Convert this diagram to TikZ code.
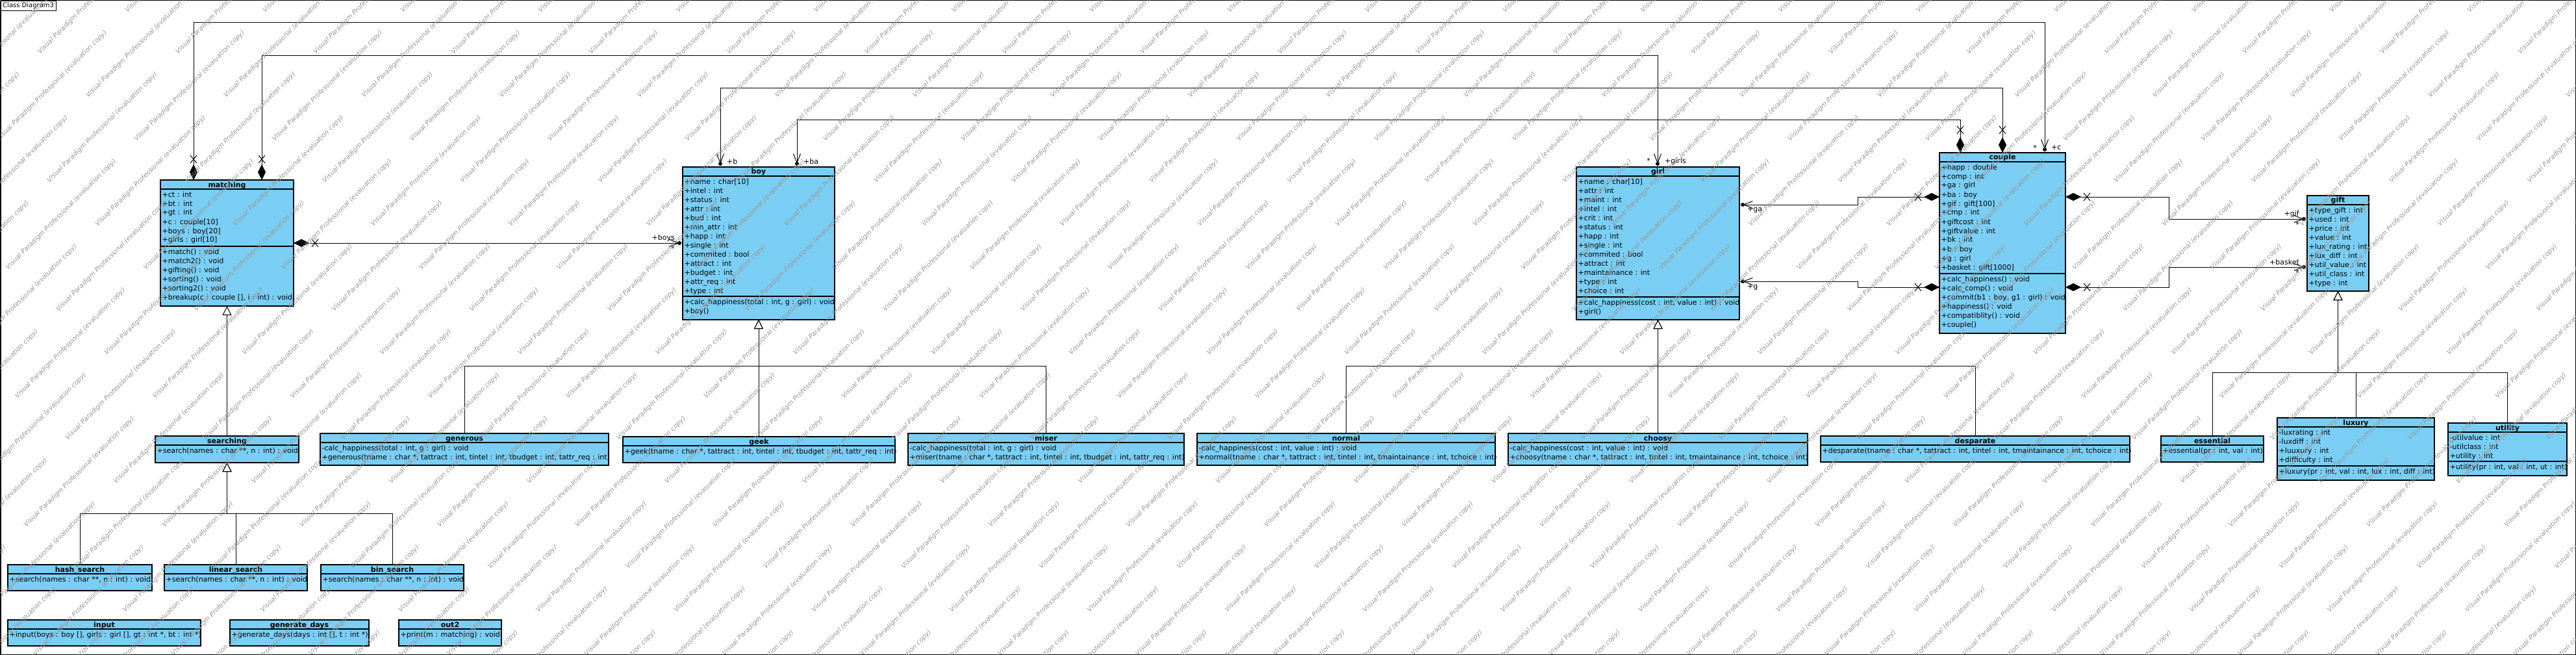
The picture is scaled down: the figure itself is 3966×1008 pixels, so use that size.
\documentclass[tikz,border=0pt]{standalone}
\usepackage{fontspec}
\setmainfont{DejaVu Sans}
\usetikzlibrary{arrows.meta,calc,fit}
\definecolor{clsfill}{RGB}{122,206,244}
\definecolor{wmgray}{RGB}{150,150,150}
\tikzset{
  cls/.style={draw=black,line width=1.3pt,fill=clsfill,inner sep=0pt,outer sep=0pt},
  ttl/.style={anchor=base,inner sep=0pt,font=\bfseries\fontsize{11}{14}\selectfont},
  txtblock/.style={anchor=north west,inner sep=0pt,font=\fontsize{11}{14}\selectfont},
  sepline/.style={line width=1.1pt},
  conn/.style={line width=1pt},
  comp/.style={conn,{Diamond[length=24pt,width=12pt]}-{Straight Barb[length=14pt,width=11pt]}},
  inh/.style={conn,-{Triangle[length=14pt,width=14pt,fill=white]}},
  xmk/.style={line width=1pt},
  lbl/.style={inner sep=0pt,font=\fontsize{11}{14}\selectfont},
  wm/.style={inner sep=0pt,text=wmgray,font=\itshape\fontsize{10}{12}\selectfont},
}
\newcommand\umlbox[6]{%
  \coordinate (#1-nw) at (#2,#3);
  \coordinate (#1-se) at (#4,#5);
  \node[cls,fit=(#1-nw)(#1-se)] (#1) {};
  \node[ttl] (#1-title) at ($(#1.north)+(0,11)$) {#6};
  \draw[sepline] ($(#1.north west)+(0,14)$) -- ($(#1.north east)+(0,14)$);
}
\newcommand\classone[7]{%
  \umlbox{#1}{#2}{#3}{#4}{#5}{#6}
  \node[txtblock] (#1-ops) at ($(#1.north west)+(2.5,16)$) {\begin{tabular}{@{}l@{}}#7\end{tabular}};
}
\newcommand\classtwo[9]{%
  \umlbox{#1}{#2}{#3}{#4}{#5}{#6}
  \node[txtblock] (#1-attrs) at ($(#1.north west)+(2.5,16)$) {\begin{tabular}{@{}l@{}}#7\end{tabular}};
  \draw[sepline] (#1.west |- 0,#8) -- (#1.east |- 0,#8);
  \node[txtblock] (#1-ops) at ($(#1.west |- 0,#8)+(2.5,2)$) {\begin{tabular}{@{}l@{}}#9\end{tabular}};
}
\newcommand\xm[1]{\draw[xmk] ($#1+(-5,-6)$) -- ($#1+(5,6)$) ($#1+(-5,6)$) -- ($#1+(5,-6)$);}
\begin{document}
\begin{tikzpicture}[x=1pt,y=-1pt]
\useasboundingbox (0,0) rectangle (3966,1008);
\fill[white] (0,0) rectangle (3966,1008);
\draw[line width=1.5pt] (0.75,0.75) rectangle (3965.25,1007.25);
\node[draw,line width=1pt,anchor=north west,inner sep=3pt,font=\fontsize{10}{12}\selectfont] (tab) at (0.75,0.75) {Class Diagram3};

% ---------- classes ----------
\classtwo{matching}{247}{277}{452}{471}{matching}
 {+ct : int\\+bt : int\\+gt : int\\+c : couple[10]\\+boys : boy[20]\\+girls : girl[10]}
 {379}
 {+match() : void\\+match2() : void\\+gifting() : void\\+sorting() : void\\+sorting2() : void\\+breakup(c : couple [], i : int) : void}

\classtwo{boy}{1051}{257}{1285}{492}{boy}
 {+name : char[10]\\+intel : int\\+status : int\\+attr : int\\+bud : int\\+min\_attr : int\\+happ : int\\+single : int\\+commited : bool\\+attract : int\\+budget : int\\+attr\_req : int\\+type : int}
 {456}
 {+calc\_happiness(total : int, g : girl) : void\\+boy()}

\classtwo{girl}{2427}{257}{2678}{492}{girl}
 {+name : char[10]\\+attr : int\\+maint : int\\+intel : int\\+crit : int\\+status : int\\+happ : int\\+single : int\\+commited : bool\\+attract : int\\+maintainance : int\\+type : int\\+choice : int}
 {457}
 {+calc\_happiness(cost : int, value : int) : void\\+girl()}

\classtwo{couple}{2986}{235}{3180}{513}{couple}
 {+happ : double\\+comp : int\\+ga : girl\\+ba : boy\\+gif : gift[100]\\+cmp : int\\+giftcost : int\\+giftvalue : int\\+bk : int\\+b : boy\\+g : girl\\+basket : gift[1000]}
 {421}
 {+calc\_happiness() : void\\+calc\_comp() : void\\+commit(b1 : boy, g1 : girl) : void\\+happiness() : void\\+compatiblity() : void\\+couple()}

\classone{gift}{3552}{301}{3647}{448}{gift}
 {+type\_gift : int\\+used : int\\+price : int\\+value : int\\+lux\_rating : int\\+lux\_diff : int\\+util\_value : int\\+util\_class : int\\+type : int}

\classone{searching}{239}{671}{460}{712}{searching}{+search(names : char **, n : int) : void}
\classone{generous}{493}{667}{937}{716}{generous}{-calc\_happiness(total : int, g : girl) : void\\+generous(tname : char *, tattract : int, tintel : int, tbudget : int, tattr\_req : int)}
\classone{geek}{959}{672}{1378}{712}{geek}{+geek(tname : char *, tattract : int, tintel : int, tbudget : int, tattr\_req : int)}
\classone{miser}{1398}{667}{1823}{716}{miser}{-calc\_happiness(total : int, g : girl) : void\\+miser(tname : char *, tattract : int, tintel : int, tbudget : int, tattr\_req : int)}
\classone{normal}{1843}{667}{2302}{716}{normal}{-calc\_happiness(cost : int, value : int) : void\\+normal(tname : char *, tattract : int, tintel : int, tmaintainance : int, tchoice : int)}
\classone{choosy}{2322}{667}{2783}{716}{choosy}{-calc\_happiness(cost : int, value : int) : void\\+choosy(tname : char *, tattract : int, tintel : int, tmaintainance : int, tchoice : int)}
\classone{desparate}{2803}{671}{3279}{711}{desparate}{+desparate(tname : char *, tattract : int, tintel : int, tmaintainance : int, tchoice : int)}
\classone{essential}{3327}{671}{3485}{711}{essential}{+essential(pr : int, val : int)}
\classtwo{luxury}{3506}{643}{3748}{739}{luxury}
 {-luxrating : int\\-luxdiff : int\\+luuxury : int\\+difficulty : int}
 {717}
 {+luxury(pr : int, val : int, lux : int, diff : int)}
\classtwo{utility}{3769}{651}{3952}{732}{utility}
 {-utilvalue : int\\-utilclass : int\\+utility : int}
 {710}
 {+utility(pr : int, val : int, ut : int)}

\classone{hashs}{12}{869}{234}{909}{hash\_search}{+search(names : char **, n : int) : void}
\classone{lins}{253}{869}{473}{909}{linear\_search}{+search(names : char **, n : int) : void}
\classone{bins}{494}{869}{714}{909}{bin\_search}{+search(names : char **, n : int) : void}
\classone{input}{12}{954}{309}{994}{input}{+input(boys : boy [], girls : girl [], gt : int *, bt : int *)}
\classone{gend}{354}{954}{568}{994}{generate\_days}{+generate\_days(days : int [], t : int *)}
\classone{outtwo}{614}{954}{772}{994}{out2}{+print(m : matching) : void}

% ---------- compositions ----------
\draw[comp] (298,0 |- matching.north) -- (298,35) -- (3148,35) -- ($(3148,0 |- couple.north)+(0,-5)$);
\draw[comp] (403,0 |- matching.north) -- (403,86) -- (2552,86) -- ($(2552,0 |- girl.north)+(0,-5)$);
\draw[comp] (3083,0 |- couple.north) -- (3083,136) -- (1109,136) -- ($(1109,0 |- boy.north)+(0,-5)$);
\draw[comp] (3018,0 |- couple.north) -- (3018,185) -- (1227,185) -- ($(1227,0 |- boy.north)+(0,-5)$);
\draw[comp] (matching.east |- 0,374) -- ($(boy.west |- 0,374)+(-5,0)$);
\draw[comp] (couple.west |- 0,303) -- (2860,303) -- (2860,315) -- ($(girl.east |- 0,315)+(5,0)$);
\draw[comp] (couple.west |- 0,442) -- (2860,442) -- (2860,433) -- ($(girl.east |- 0,433)+(5,0)$);
\draw[comp] (couple.east |- 0,303) -- (3339,303) -- (3339,337) -- ($(gift.west |- 0,337)+(-5,0)$);
\draw[comp] (couple.east |- 0,442) -- (3339,442) -- (3339,411) -- ($(gift.west |- 0,411)+(-5,0)$);

% dots at navigable ends
\fill ($(3148,0 |- couple.north)+(0,-5)$) circle (3pt);
\fill ($(2552,0 |- girl.north)+(0,-5)$) circle (3pt);
\fill ($(1109,0 |- boy.north)+(0,-5)$) circle (3pt);
\fill ($(1227,0 |- boy.north)+(0,-5)$) circle (3pt);
\fill ($(boy.west |- 0,374)+(-5,0)$) circle (3pt);
\fill ($(girl.east |- 0,315)+(5,0)$) circle (3pt);
\fill ($(girl.east |- 0,433)+(5,0)$) circle (3pt);
\fill ($(gift.west |- 0,337)+(-5,0)$) circle (3pt);
\fill ($(gift.west |- 0,411)+(-5,0)$) circle (3pt);

% non-navigable crosses
\xm{(298,245)} \xm{(403,245)} \xm{(485,374)}
\xm{(3018,200)} \xm{(3083,200)}
\xm{(2953,303)} \xm{(2953,442)}
\xm{(3213,303)} \xm{(3213,442)}

% role names and multiplicities
\node[lbl,anchor=west] (r-c) at (3158,227) {+c};
\node[lbl] (m-c) at (3133,227) {*};
\node[lbl,anchor=west] (r-girls) at (2563,248) {+girls};
\node[lbl] (m-girls) at (2538,247) {*};
\node[lbl,anchor=west] (r-b) at (1119,248) {+b};
\node[lbl,anchor=west] (r-ba) at (1237,248) {+ba};
\node[lbl,anchor=east] (r-boys) at (1039,366) {+boys};
\node[lbl] (m-boys) at (1036,382) {*};
\node[lbl,anchor=west] (r-ga) at (2690,323) {+ga};
\node[lbl,anchor=west] (r-g) at (2690,442) {+g};
\node[lbl,anchor=east] (r-gif) at (3540,329) {+gif};
\node[lbl] (m-gif) at (3537,345) {*};
\node[lbl,anchor=east] (r-basket) at (3540,403) {+basket};
\node[lbl] (m-basket) at (3537,419) {*};

% ---------- generalizations ----------
\draw[inh] (searching.north) -- (matching.south);
\draw[inh] (hashs.north) |- (searching.south |- 0,790) -- (searching.south);
\draw[inh] (lins.north) |- (searching.south |- 0,790) -- (searching.south);
\draw[inh] (bins.north) |- (searching.south |- 0,790) -- (searching.south);
\draw[inh] (generous.north) |- (boy.south |- 0,563) -- (boy.south);
\draw[inh] (geek.north) |- (boy.south |- 0,563) -- (boy.south);
\draw[inh] (miser.north) |- (boy.south |- 0,563) -- (boy.south);
\draw[inh] (normal.north) |- (girl.south |- 0,563) -- (girl.south);
\draw[inh] (choosy.north) |- (girl.south |- 0,563) -- (girl.south);
\draw[inh] (desparate.north) |- (girl.south |- 0,563) -- (girl.south);
\draw[inh] (essential.north) |- (gift.south |- 0,573) -- (gift.south);
\draw[inh] (luxury.north) |- (gift.south |- 0,573) -- (gift.south);
\draw[inh] (utility.north) |- (gift.south |- 0,573) -- (gift.south);

% ---------- watermark ----------
\begin{scope}
 \clip (0,0) rectangle (3966,1008);
 \begin{scope}[rotate=45]
  \foreach \vv in {0,...,71}{
   \foreach \kk in {0,...,7}{
     \pgfmathsetmacro\wmx{50*\vv - 1705 + 280*\kk + 95*mod(\vv,3)}
     \node[wm,transform shape,anchor=west] (wm-\vv-\kk) at (\wmx,50*\vv) {Visual Paradigm Professional (evaluation copy)};
   }
  }
 \end{scope}
\end{scope}
\end{tikzpicture}
\end{document}
